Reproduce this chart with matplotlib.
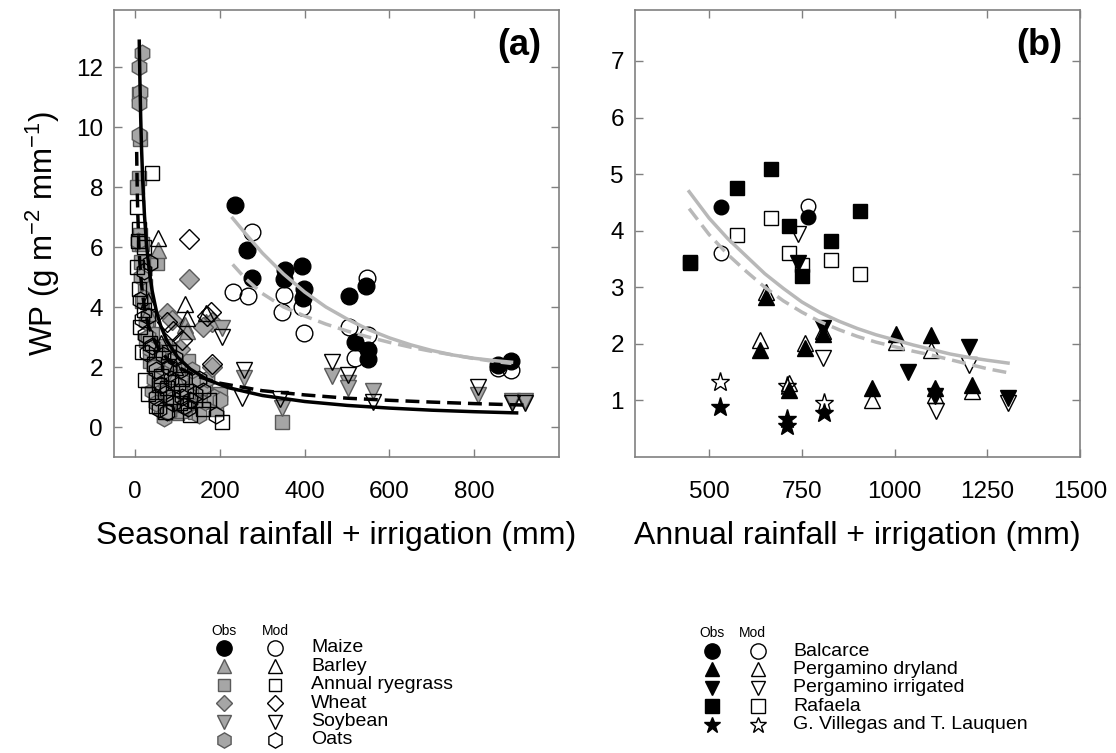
import numpy as np
import matplotlib
matplotlib.use("Agg")
import matplotlib.pyplot as plt

plt.rcParams['font.family'] = ['Liberation Sans', 'DejaVu Sans']
plt.rcParams['mathtext.fontset'] = 'custom'
plt.rcParams['mathtext.rm'] = 'Liberation Sans'

# ---- panel (a): seasonal rainfall + irrigation (mm) vs WP ----
maize_obs_x = [236, 263, 276, 353, 350, 393, 399, 395, 504, 545, 518, 549, 549, 857, 887]
maize_obs_y = [7.40, 5.90, 4.96, 5.23, 4.93, 5.37, 4.61, 4.31, 4.37, 4.71, 2.84, 2.57, 2.26, 2.07, 2.20]
maize_mod_x = [275, 230, 265, 351, 347, 394, 399, 546, 504, 550, 518, 857, 887]
maize_mod_y = [6.51, 4.51, 4.38, 4.40, 3.84, 4.01, 3.12, 4.98, 3.34, 3.07, 2.29, 1.96, 1.90]

barley_obs_x = [53, 118, 122, 167, 60, 95, 30]
barley_obs_y = [5.9, 3.4, 3.2, 3.5, 2.5, 1.7, 3.8]
barley_mod_x = [53, 118, 122, 167, 60, 95, 30]
barley_mod_y = [6.29, 4.10, 3.62, 3.79, 2.8, 2.0, 4.2]

rye_obs_x = [10, 12, 8, 12, 5, 10, 16, 14, 51, 24, 16, 30, 40, 45, 60, 70, 80, 90,
             100, 110, 120, 130, 150, 180, 190, 200, 346, 98, 50, 65,
             35, 55, 75, 85, 105, 115, 140, 165, 25, 70, 125, 95]
rye_obs_y = [11.1, 9.6, 8.3, 6.4, 8.0, 6.1, 6.1, 5.5, 5.46, 4.7, 4.2, 3.6, 3.1, 2.5, 2.2, 1.9, 1.5, 1.2,
             1.6, 1.0, 1.3, 0.9, 1.1, 1.0, 0.6, 1.1, 0.18, 0.46, 1.4, 0.7,
             2.2, 0.9, 0.8, 2.0, 0.55, 1.9, 0.5, 1.3, 2.9, 2.7, 2.2, 0.75]
rye_mod_x = [39, 4, 6, 4, 8, 12, 15, 24, 20, 35, 45, 60, 75, 90, 105, 120, 140, 160, 206, 20, 55, 80,
             10, 30, 50, 70, 110, 130, 175]
rye_mod_y = [8.46, 7.34, 6.2, 5.34, 4.6, 3.34, 2.5, 1.57, 3.9, 2.8, 2.1, 1.7, 1.3, 1.0, 0.8, 1.2, 0.9, 0.6,
             0.18, 6.0, 1.4, 2.5, 6.6, 1.1, 0.7, 0.5, 1.6, 0.4, 0.9]

wheat_obs_x = [126, 181, 181, 75, 86, 160, 105]
wheat_obs_y = [4.92, 3.51, 2.01, 3.79, 3.57, 3.35, 2.6]
wheat_mod_x = [126, 179, 181, 75, 90, 170, 110]
wheat_mod_y = [6.26, 3.84, 2.10, 3.5, 3.2, 3.7, 2.9]

soy_obs_x = [206, 256, 346, 465, 503, 503, 561, 809, 888, 920]
soy_obs_y = [3.30, 1.62, 0.62, 1.70, 1.46, 1.30, 1.21, 1.07, 0.88, 0.88]
soy_mod_x = [206, 256, 253, 342, 465, 503, 561, 809, 888, 920]
soy_mod_y = [3.00, 1.90, 0.96, 0.92, 2.18, 1.73, 0.84, 1.32, 0.80, 0.80]

oats_obs_x = [15, 8, 12, 10, 8, 6, 14, 20, 25, 30, 35, 45, 55, 67, 75, 85, 95, 110, 125, 140, 160, 185, 40, 60,
              50, 65, 80, 90, 100, 120, 135, 150, 170, 200, 45, 105]
oats_obs_y = [12.46, 12.0, 11.18, 10.79, 9.73, 6.2, 5.0, 4.3, 3.5, 3.0, 2.6, 2.0, 1.5, 0.29, 1.2, 0.9,
              2.3, 1.7, 1.1, 1.5, 0.8, 1.0, 1.2, 0.6,
              0.8, 1.8, 0.5, 1.5, 2.6, 0.7, 1.9, 0.4, 1.6, 0.9, 1.6, 1.2]
oats_mod_x = [20, 12, 35, 27, 22, 30, 40, 50, 60, 70, 80, 90, 100, 115, 125, 140, 190, 150, 48, 65,
              16, 55, 85, 95, 110, 130, 160, 75, 105]
oats_mod_y = [5.2, 4.23, 5.46, 2.46, 3.07, 3.7, 2.7, 1.9, 1.4, 1.1, 2.0, 0.8, 1.4, 0.7, 0.62, 1.1, 0.4,
              1.6, 1.0, 2.4, 3.6, 0.6, 1.6, 2.3, 1.0, 0.9, 1.2, 0.5, 1.9]

# fitted curves
fit_obs_x = [9.6, 11, 13, 15, 18, 22, 27, 33, 40, 50, 60, 75, 100, 130, 170, 220, 300, 400, 500, 600, 700, 800, 900]
fit_obs_y = [12.86, 11.64, 10.31, 9.29, 8.13, 7.03, 6.05, 5.23, 4.54, 3.86, 3.38, 2.87, 2.33, 1.93, 1.58,
             1.31, 1.05, 0.85, 0.72, 0.63, 0.56, 0.51, 0.47]
fit_mod_x = [3.5, 4, 5, 6, 8, 10, 13, 17, 22, 30, 40, 55, 75, 100, 140, 200, 300, 400, 500, 600, 700, 800, 920]
fit_mod_y = [9.17, 8.62, 7.79, 7.18, 6.30, 5.69, 5.05, 4.47, 3.98, 3.45, 3.03, 2.62, 2.28, 2.00, 1.72,
             1.46, 1.21, 1.07, 0.96, 0.89, 0.83, 0.78, 0.73]
maize_fit_x = [230, 260, 300, 350, 400, 450, 500, 550, 600, 650, 700, 750, 800, 850, 888]
maize_fit_obs = [6.96, 6.45, 5.80, 5.10, 4.50, 4.00, 3.60, 3.25, 2.97, 2.74, 2.55, 2.40, 2.29, 2.21, 2.16]
maize_fit_mod = [5.42, 4.95, 4.45, 4.00, 3.70, 3.43, 3.20, 3.00, 2.82, 2.66, 2.52, 2.40, 2.28, 2.18, 2.12]

# ---- panel (b): annual rainfall + irrigation (mm) vs WP ----
balc_obs_x = [533, 767]
balc_obs_y = [4.41, 4.24]
balc_mod_x = [533, 767]
balc_mod_y = [3.61, 4.44]
pdry_obs_x = [652, 638, 716, 758, 807, 940, 1003, 1098, 1208, 1109]
pdry_obs_y = [2.82, 1.89, 1.19, 1.92, 2.18, 1.22, 2.17, 2.16, 1.28, 1.22]
pdry_mod_x = [652, 638, 716, 758, 807, 940, 1003, 1098, 1208, 1109]
pdry_mod_y = [2.92, 2.07, 1.31, 2.01, 2.22, 1.01, 2.04, 1.89, 1.16, 1.10]
pirr_obs_x = [740, 807, 1037, 1109, 1202, 1306]
pirr_obs_y = [3.42, 2.28, 1.51, 1.07, 1.95, 1.04]
pirr_mod_x = [740, 807, 1113, 1202, 1306]
pirr_mod_y = [3.95, 1.75, 0.81, 1.63, 0.95]
raf_obs_x = [448, 574, 666, 716, 751, 828, 906]
raf_obs_y = [3.45, 4.75, 5.09, 4.08, 3.20, 3.82, 4.34]
raf_mod_x = [448, 574, 666, 716, 751, 828, 906]
raf_mod_y = [3.42, 3.92, 4.22, 3.60, 3.39, 3.49, 3.24]
gv_obs_x = [529, 711, 711, 810]
gv_obs_y = [0.88, 0.67, 0.54, 0.78]
gv_mod_x = [529, 711, 810]
gv_mod_y = [1.32, 1.25, 0.95]

fit_b_x = [446, 500, 550, 600, 650, 700, 750, 800, 850, 900, 950, 1000, 1050, 1100, 1150, 1200, 1250, 1306]
fit_b_obs = [4.69, 4.22, 3.86, 3.55, 3.24, 2.98, 2.74, 2.55, 2.40, 2.27, 2.16, 2.07, 1.98, 1.90, 1.82, 1.76, 1.71, 1.66]
fit_b_mod = [4.39, 3.93, 3.58, 3.28, 3.00, 2.76, 2.56, 2.39, 2.25, 2.13, 2.03, 1.95, 1.87, 1.80, 1.72, 1.64, 1.56, 1.49]

GRAY = '#a6a6a6'
GEDGE = '#5a5a5a'
LGRAY = '#b8b8b8'

fig = plt.figure(figsize=(11.16, 7.53), dpi=100)
W, H = 1116, 753
axa = fig.add_axes([114 / W, 1 - 457 / H, 445 / W, 447 / H])
axb = fig.add_axes([635 / W, 1 - 457 / H, 445 / W, 447 / H])


def obs(ax, x, y, m, ms, color='black', ec='black'):
    ax.plot(x, y, ls='none', marker=m, ms=ms, mfc=color, mec=ec, mew=1.0, zorder=2)


def mod(ax, x, y, m, ms):
    ax.plot(x, y, ls='none', marker=m, ms=ms, mfc='none', mec='black', mew=1.0, zorder=2.5)


# panel a markers
obs(axa, rye_obs_x, rye_obs_y, 's', 10, GRAY, GEDGE)
obs(axa, oats_obs_x, oats_obs_y, 'h', 12, GRAY, GEDGE)
obs(axa, barley_obs_x, barley_obs_y, '^', 12, GRAY, GEDGE)
obs(axa, wheat_obs_x, wheat_obs_y, 'D', 10, GRAY, GEDGE)
obs(axa, soy_obs_x, soy_obs_y, 'v', 12, GRAY, GEDGE)
mod(axa, rye_mod_x, rye_mod_y, 's', 10)
mod(axa, oats_mod_x, oats_mod_y, 'h', 12)
mod(axa, barley_mod_x, barley_mod_y, '^', 12)
mod(axa, wheat_mod_x, wheat_mod_y, 'D', 10)
mod(axa, soy_mod_x, soy_mod_y, 'v', 12)
obs(axa, maize_obs_x, maize_obs_y, 'o', 12)
mod(axa, maize_mod_x, maize_mod_y, 'o', 12)

axa.plot(maize_fit_x, maize_fit_obs, color=LGRAY, lw=2.5, zorder=3)
axa.plot(maize_fit_x, maize_fit_mod, color=LGRAY, lw=2.5, ls=(0, (4, 2)), zorder=3)
axa.plot(fit_obs_x, fit_obs_y, color='black', lw=2.5, zorder=3)
axa.plot(fit_mod_x, fit_mod_y, color='black', lw=2.5, ls=(0, (4, 2)), zorder=3)

# panel b markers
obs(axb, raf_obs_x, raf_obs_y, 's', 10.5)
mod(axb, raf_mod_x, raf_mod_y, 's', 10.5)
obs(axb, balc_obs_x, balc_obs_y, 'o', 10.5)
mod(axb, balc_mod_x, balc_mod_y, 'o', 10.5)
obs(axb, pdry_obs_x, pdry_obs_y, '^', 11)
mod(axb, pdry_mod_x, pdry_mod_y, '^', 11)
obs(axb, pirr_obs_x, pirr_obs_y, 'v', 11)
mod(axb, pirr_mod_x, pirr_mod_y, 'v', 11)
obs(axb, gv_obs_x, gv_obs_y, '*', 14)
mod(axb, gv_mod_x, gv_mod_y, '*', 14)

axb.plot(fit_b_x, fit_b_obs, color=LGRAY, lw=2.5, zorder=3)
axb.plot(fit_b_x, fit_b_mod, color=LGRAY, lw=2.5, ls=(0, (4, 2)), zorder=3)

# axes styling
axa.set_xlim(-50, 1000)
axa.set_ylim(-1, 13.9)
axa.set_xticks([0, 200, 400, 600, 800])
axa.set_yticks([0, 2, 4, 6, 8, 10, 12])
axb.set_xlim(300, 1500)
axb.set_ylim(0, 7.9)
axb.set_xticks([500, 750, 1000, 1250, 1500])
axb.set_yticks([1, 2, 3, 4, 5, 6, 7])

for ax in (axa, axb):
    for s in ax.spines.values():
        s.set_color('#808080')
        s.set_linewidth(1.2)
    ax.tick_params(direction='in', length=6, width=1, color='#808080', top=True, right=True,
                   labelsize=17.5)
    ax.tick_params(axis='y', pad=8)
    ax.tick_params(axis='x', pad=17)

axa.set_xlabel('Seasonal rainfall + irrigation (mm)', fontsize=23, labelpad=13)
axb.set_xlabel('Annual rainfall + irrigation (mm)', fontsize=23, labelpad=13)
axa.set_ylabel(r'WP (g m$^{\mathregular{-2}}$ mm$^{\mathregular{-1}}$)', fontsize=22.5, labelpad=10)
axa.text(0.96, 0.92, '(a)', transform=axa.transAxes, ha='right', va='center', fontsize=26, fontweight='bold')
axb.text(0.96, 0.92, '(b)', transform=axb.transAxes, ha='right', va='center', fontsize=26, fontweight='bold')

# legends below the panels, laid out in pixel coordinates
lg = fig.add_axes([0, 0, 1, 1])
lg.set_xlim(0, W)
lg.set_ylim(H, 0)
lg.axis('off')

crops = ['Maize', 'Barley', 'Annual ryegrass', 'Wheat', 'Soybean', 'Oats']
crop_markers = ['o', '^', 's', 'D', 'v', 'h']
crop_ms = [11, 10, 9, 8, 10, 11]
sites = ['Balcarce', 'Pergamino dryland', 'Pergamino irrigated', 'Rafaela', 'G. Villegas and T. Lauquen']
site_markers = ['o', '^', 'v', 's', '*']
site_ms = [11, 10.5, 10.5, 10, 12]

lg.text(224, 631, 'Obs', fontsize=10, ha='center', va='center')
lg.text(275, 631, 'Mod', fontsize=10, ha='center', va='center')
for i, (name, m, ms) in enumerate(zip(crops, crop_markers, crop_ms)):
    yy = 648 + i * 18.4
    fc = 'black' if name == 'Maize' else GRAY
    ec = 'black' if name == 'Maize' else GEDGE
    lg.plot([224], [yy], ls='none', marker=m, ms=ms, mfc=fc, mec=ec, mew=1)
    lg.plot([275], [yy], ls='none', marker=m, ms=ms, mfc='none', mec='black', mew=1)
    lg.text(311, yy, name, fontsize=14, va='center')

lg.text(712, 633, 'Obs', fontsize=10, ha='center', va='center')
lg.text(752, 633, 'Mod', fontsize=10, ha='center', va='center')
for i, (name, m, ms) in enumerate(zip(sites, site_markers, site_ms)):
    yy = 651 + i * 18.4
    lg.plot([712], [yy], ls='none', marker=m, ms=ms, mfc='black', mec='black', mew=1)
    lg.plot([758], [yy], ls='none', marker=m, ms=ms, mfc='none', mec='black', mew=1)
    lg.text(793, yy, name, fontsize=14, va='center')

fig.savefig('out.png', dpi=100)
